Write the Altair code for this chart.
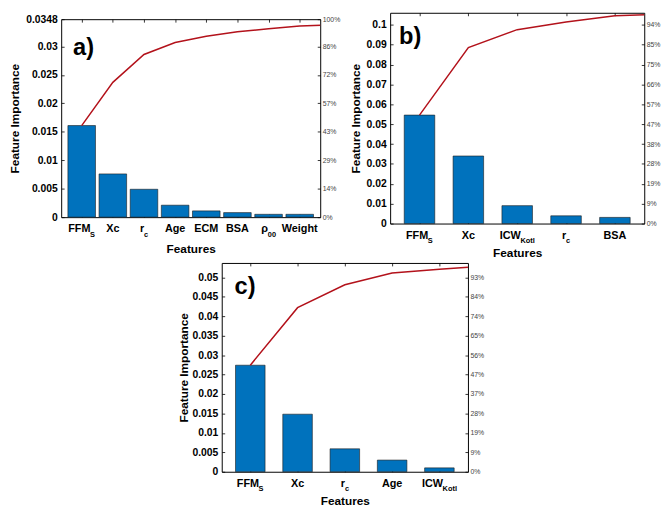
import altair as alt
import pandas as pd

FONT = "Liberation Sans"
BAR_COLOR = "#0072BD"
LINE_COLOR = "#B3121B"

# ---------------- data ----------------
# panel a)
a_base = ["FFM", "Xc", "r", "Age", "ECM", "BSA", "ρ", "Weight"]
a_sub = ["S", "", "c", "", "", "", "00", ""]
a_vals = [0.0161, 0.0076, 0.0049, 0.0021, 0.0011, 0.0008, 0.0005, 0.0005]
a_next = 0.0002          # next (unplotted) feature: cumulative line runs on to the frame
a_total = 0.0348         # sum of all importances (=100 %)
a_ticks = [0, 0.005, 0.01, 0.015, 0.02, 0.025, 0.03, 0.0348]

# panel b)
b_base = ["FFM", "Xc", "ICW", "r", "BSA"]
b_sub = ["S", "", "Kotl", "c", ""]
b_vals = [0.0546, 0.0340, 0.0090, 0.0039, 0.0031]
b_next = 0.0008
b_total = 0.1061
b_ticks = [0, 0.01, 0.02, 0.03, 0.04, 0.05, 0.06, 0.07, 0.08, 0.09, 0.1]

# panel c)
c_base = ["FFM", "Xc", "r", "Age", "ICW"]
c_sub = ["S", "", "c", "", "Kotl"]
c_vals = [0.0274, 0.0148, 0.0059, 0.0030, 0.0010]
c_next = 0.0008
c_total = 0.0537
c_ticks = [0, 0.005, 0.01, 0.015, 0.02, 0.025, 0.03, 0.035, 0.04, 0.045, 0.05]

# approximate glyph advance widths (em) of Liberation Sans Bold, for centring labels
CW = {"F": .611, "M": .833, "X": .667, "c": .556, "r": .389, "A": .722, "g": .611,
      "e": .556, "E": .667, "C": .722, "B": .722, "S": .667, "W": .944, "i": .278,
      "h": .611, "t": .333, "I": .278, "K": .722, "o": .611, "l": .278, "ρ": .611,
      "0": .556}

LAB_FS = 11
SUB_FS = 7.5


def tw(s, fs):
    return sum(CW.get(ch, 0.6) for ch in s) * fs


def panel(base, sub, vals, nxt, total, ticks, W, H, bar_size, letter, lx, ly,
          ytx, xty):
    n = len(vals)
    pos = list(range(1, n + 1))
    ppu = W / n
    bw = [tw(t, LAB_FS) for t in base]
    sw = [tw(t, SUB_FS) for t in sub]
    tot = [p + q for p, q in zip(bw, sw)]
    labels = pd.DataFrame({
        "base": base,
        "sub": sub,
        "bx": [p + (-t / 2 + b / 2) / ppu for p, t, b in zip(pos, tot, bw)],
        "sx": [p + (-t / 2 + b) / ppu for p, t, b in zip(pos, tot, bw)],
    })
    bars = pd.DataFrame({"pos": pos, "v": vals})
    cum = pd.DataFrame({"pos": pos + [n + 1],
                        "c": pd.Series(vals + [nxt]).cumsum()})

    xs = alt.Scale(domain=[0.5, n + 0.5], nice=False, zero=False)
    ys = alt.Scale(domain=[0, total], nice=False, zero=True)

    bottom_axis = alt.Axis(
        orient="bottom", values=pos, labels=False, grid=False, domain=False,
        offset=-3, tickSize=3, tickColor="black", tickWidth=0.8,
        title="Features", titleFont=FONT, titleFontSize=12,
        titleFontWeight="bold", titleColor="black", titleX=W / 2, titleY=xty,
        titleBaseline="alphabetic", titleAlign="center")
    top_axis = alt.Axis(
        orient="top", values=pos, labels=False, grid=False, domain=False,
        offset=-3, tickSize=3, tickColor="black", tickWidth=0.8, title=None)
    left_axis = alt.Axis(
        orient="left", values=ticks, format=".4~g", grid=False, domain=False,
        offset=-3, tickSize=3, tickColor="black", tickWidth=0.8,
        labelFont=FONT, labelFontSize=10.5, labelFontWeight="bold",
        labelColor="black", labelPadding=4, labelFlush=False,
        labelOverlap=False,
        title="Feature Importance", titleFont=FONT, titleFontSize=12,
        titleFontWeight="bold", titleColor="black", titleAngle=270,
        titleBaseline="alphabetic", titleAlign="center", titleX=ytx,
        titleY=H / 2)
    right_axis = alt.Axis(
        orient="right", values=ticks,
        labelExpr=f"format(datum.value / {total}, '.0%')",
        grid=False, domain=False, offset=-3, tickSize=3, tickColor="black",
        tickWidth=0.8, labelFont=FONT, labelFontSize=7, labelColor="#444444",
        labelPadding=2, labelFlush=False, labelOverlap=False, title=None)

    bar_layer = alt.Chart(bars).mark_bar(
        size=bar_size, color=BAR_COLOR, stroke="#1a1a1a", strokeWidth=0.6
    ).encode(
        x=alt.X("pos:Q", scale=xs, axis=bottom_axis),
        y=alt.Y("v:Q", scale=ys, axis=left_axis),
    )
    line_layer = alt.Chart(cum).mark_line(
        color=LINE_COLOR, strokeWidth=1.5, clip=True
    ).encode(
        x=alt.X("pos:Q", scale=xs, axis=top_axis),
        y=alt.Y("c:Q", scale=ys, axis=right_axis),
    )
    base_text = alt.Chart(labels).mark_text(
        align="center", baseline="alphabetic", font=FONT, fontSize=LAB_FS,
        fontWeight="bold", color="black"
    ).encode(
        x=alt.X("bx:Q", scale=xs, axis=None),
        y=alt.value(H + 15.5),
        text="base:N",
    )
    sub_text = alt.Chart(labels).mark_text(
        align="left", baseline="alphabetic", font=FONT, fontSize=SUB_FS,
        fontWeight="bold", color="black"
    ).encode(
        x=alt.X("sx:Q", scale=xs, axis=None),
        y=alt.value(H + 20),
        text="sub:N",
    )
    letter_text = alt.Chart(pd.DataFrame({"t": [letter]})).mark_text(
        align="left", baseline="alphabetic", font=FONT, fontSize=24,
        fontWeight="bold", color="black"
    ).encode(x=alt.value(lx), y=alt.value(ly), text="t:N")

    return alt.layer(
        bar_layer, line_layer, base_text, sub_text, letter_text
    ).resolve_scale(x="shared", y="shared").resolve_axis(
        x="independent", y="independent"
    ).properties(
        width=W, height=H,
        view=alt.ViewBackground(stroke="black", strokeWidth=1, fill="white"),
    )


pa = panel(a_base, a_sub, a_vals, a_next, a_total, a_ticks, W=263, H=201,
           bar_size=28, letter="a)", lx=12, ly=36, ytx=-46.5, xty=39)
pb = panel(b_base, b_sub, b_vals, b_next, b_total, b_ticks, W=258, H=214,
           bar_size=31, letter="b)", lx=9, ly=32, ytx=-33.7, xty=36)
pc = panel(c_base, c_sub, c_vals, c_next, c_total, c_ticks, W=250, H=212,
           bar_size=30, letter="c)", lx=13, ly=32, ytx=-37.7, xty=36)

spacer = alt.Chart(pd.DataFrame({"z": [0]})).mark_point(opacity=0).encode(
    x=alt.X("z:Q", axis=None), y=alt.Y("z:Q", axis=None)
).properties(width=163, height=1,
             view=alt.ViewBackground(stroke="transparent"))

row1 = alt.hconcat(pa, pb, spacing=71, bounds="flush", center=True)
row2 = alt.hconcat(spacer, pc, spacing=0, bounds="flush")

chart = alt.vconcat(row1, row2, spacing=1).properties(
    padding=0, background="white"
).configure_view(stroke="transparent")

chart.save("out.html", embed_options={"renderer": "svg", "actions": False})
